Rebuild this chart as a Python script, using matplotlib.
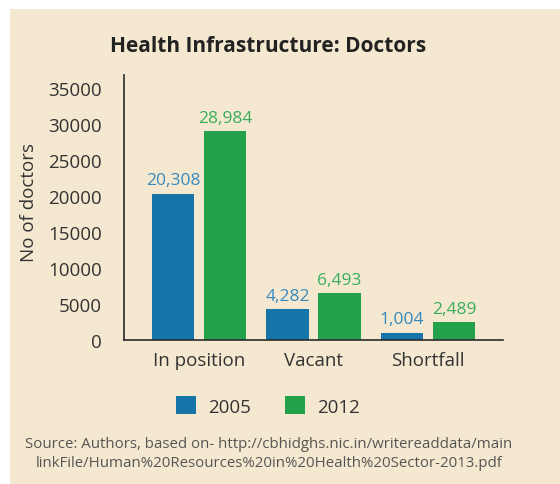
import matplotlib
matplotlib.use('Agg')
import matplotlib.pyplot as plt
from matplotlib.patches import Rectangle, Patch
import numpy as np

plt.rcParams['font.family'] = ['Open Sans', 'DejaVu Sans']

# Data
categories = ['In position', 'Vacant', 'Shortfall']
years = ['2005', '2012']
doctors_2005 = [20308, 4282, 1004]
doctors_2012 = [28984, 6493, 2489]
yticks = [0, 5000, 10000, 15000, 20000, 25000, 30000, 35000]

bg = '#f4e9d0'
bar_colors = ['#1574a8', '#23a24b']
label_colors = ['#3589bf', '#3aad5c']
text_color = '#333333'

fig = plt.figure(figsize=(5.6, 4.85), dpi=100, facecolor='white')

# beige panel with white margin top/left
fig.patches.append(Rectangle((10 / 560, 0), 1, 1 - 10 / 485, transform=fig.transFigure,
                             facecolor=bg, edgecolor='none', zorder=-10))

ax = fig.add_axes([124 / 560, 1 - 341 / 485, (503 - 124) / 560, (341 - 76) / 485])
ax.set_facecolor('none')

x = np.arange(len(categories))
w = 0.37
off = 0.228
b1 = ax.bar(x - off, doctors_2005, w, color=bar_colors[0])
b2 = ax.bar(x + off, doctors_2012, w, color=bar_colors[1])

for bars, vals, c in [(b1, doctors_2005, label_colors[0]), (b2, doctors_2012, label_colors[1])]:
    for rect, v in zip(bars, vals):
        ax.annotate(f'{v:,}', (rect.get_x() + rect.get_width() / 2, v),
                    xytext=(0, 4), textcoords='offset points',
                    ha='center', va='bottom', color=c, fontsize=12.5)

ax.set_xlim(-0.655, 2.655)
ax.set_ylim(0, 36800)
ax.set_yticks(yticks)
ax.set_yticklabels([str(t) for t in yticks])
ax.set_xticks(x)
ax.set_xticklabels(categories)
ax.tick_params(axis='both', length=0, labelsize=13.5, colors=text_color)
ax.tick_params(axis='y', pad=16)
ax.tick_params(axis='x', pad=8)

for s in ['top', 'right']:
    ax.spines[s].set_visible(False)
for s in ['left', 'bottom']:
    ax.spines[s].set_color('#2b2b2b')
    ax.spines[s].set_linewidth(1.2)

# y axis title
fig.text(29 / 560, 1 - 203 / 485, 'No of doctors', rotation=90, ha='center', va='center',
         fontsize=13.5, color=text_color)

fig.text(268 / 560, 1 - 46 / 485, 'Health Infrastructure: Doctors', ha='center', va='center',
         fontsize=15, fontweight='bold', color='#222222')

handles = [Patch(facecolor=bar_colors[0]), Patch(facecolor=bar_colors[1])]
fig.legend(handles, years, loc='center', bbox_to_anchor=(268 / 560, 1 - 407 / 485),
           ncol=2, frameon=False, fontsize=13.5, handlelength=1.07, handleheight=1.1,
           handletextpad=0.64, columnspacing=1.8, labelcolor=text_color)

fig.text(269 / 560, 1 - 454 / 485,
         'Source: Authors, based on- http://cbhidghs.nic.in/writereaddata/main\n'
         'linkFile/Human%20Resources%20in%20Health%20Sector-2013.pdf',
         ha='center', va='center', fontsize=10.8, color='#555555', linespacing=1.3)

fig.savefig('out.png', dpi=100, facecolor=fig.get_facecolor())
